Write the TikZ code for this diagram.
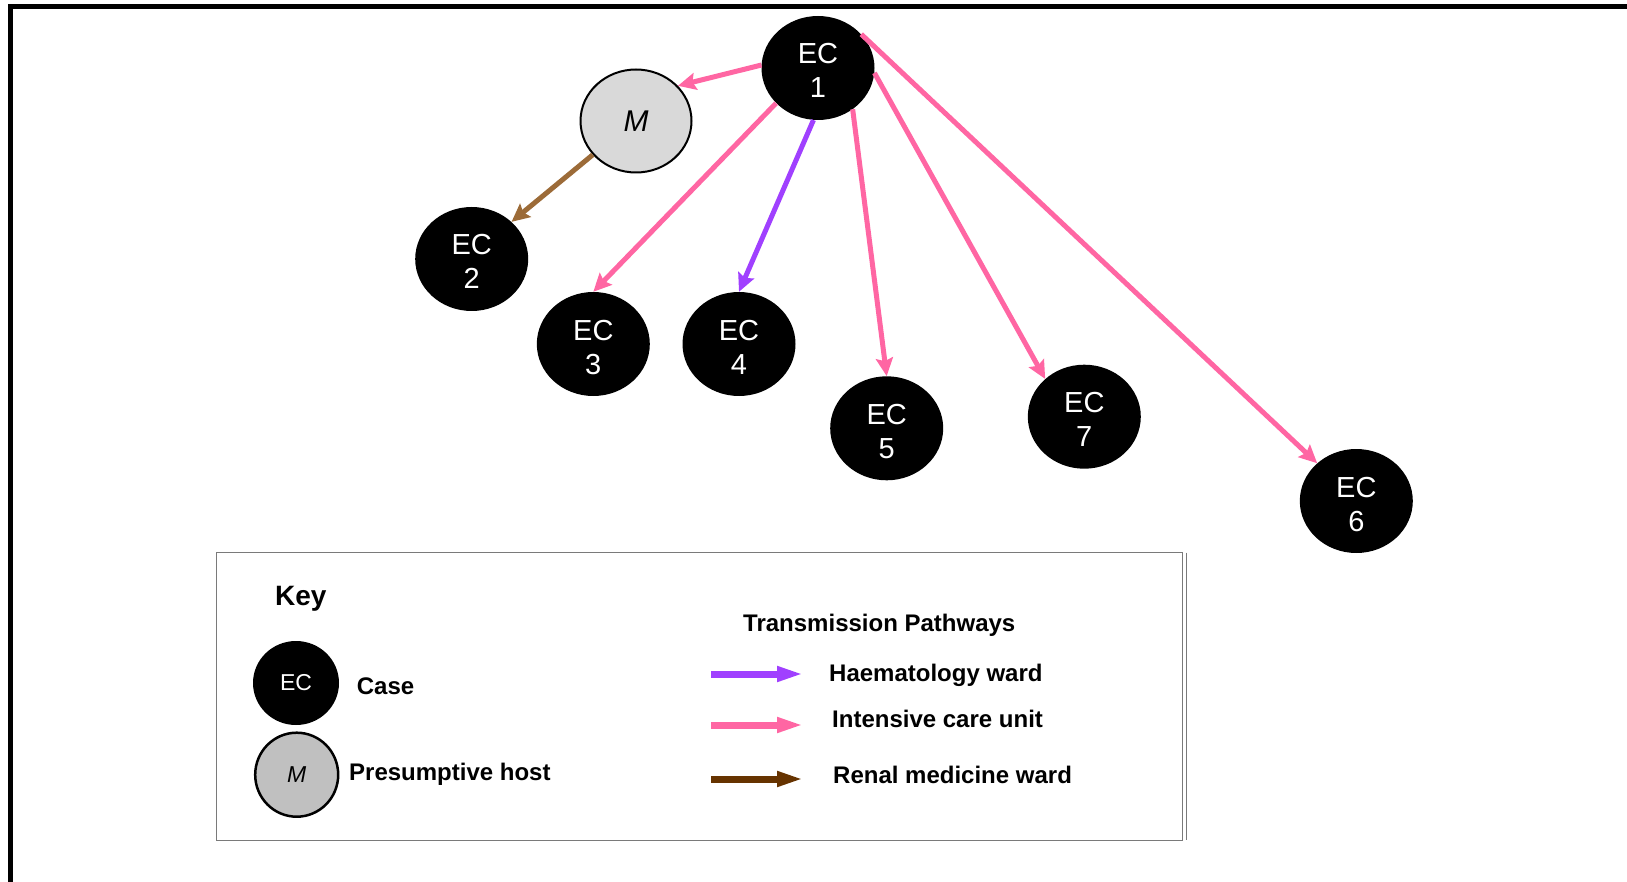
\documentclass[tikz,border=0pt]{standalone}
\usepackage{fontspec}
\setmainfont{Liberation Sans}
\usetikzlibrary{arrows.meta,shapes.geometric}
\definecolor{icupink}{HTML}{FF66A3}
\definecolor{haempurple}{HTML}{A040FF}
\definecolor{renalbrown}{HTML}{9C6B38}
\definecolor{renaldark}{HTML}{663300}
\definecolor{hostgrey}{HTML}{D9D9D9}
\definecolor{keygrey}{HTML}{C0C0C0}
\definecolor{keyframe}{HTML}{7A7A7A}

\begin{document}
\begin{tikzpicture}[x=1pt,y=-1pt,
  case/.style={ellipse, fill=black, text=white, minimum width=113pt,
    minimum height=104pt, inner sep=0pt, align=center,
    font=\fontsize{29}{34}\selectfont,
    text height=60pt, text depth=0pt},
  host/.style={ellipse, draw=black, line width=2pt, fill=hostgrey,
    minimum width=111pt, minimum height=103pt, inner sep=0pt,
    font=\fontsize{30}{33}\selectfont\itshape},
  link/.style={line width=5pt, -{Stealth[length=18pt,width=17pt,inset=3pt]}},
  icu/.style={link, draw=icupink, fill=icupink},
  haem/.style={link, draw=haempurple, fill=haempurple},
  renal/.style={link, draw=renalbrown, fill=renalbrown},
  keyarrow/.style={line width=7pt, -{Triangle[length=27pt,width=14pt]}},
  keylabel/.style={anchor=base west, inner sep=0pt,
    font=\fontsize{24}{28}\selectfont\bfseries},
  keyline/.style={draw=keyframe, line width=0.9pt},
]
\useasboundingbox (0,0) rectangle (1627,882);

% open page frame (top and left edges)
\draw[line width=5pt] (10.5,882) -- (10.5,6.5) -- (1627,6.5);

% cases and presumptive host
\node[case] (ec1) at (818,68) {EC\\1};
\node[host] (m) at (636,121) {M};
\node[case] (ec2) at (471.7,259) {EC\\2};
\node[case] (ec3) at (593.3,344) {EC\\3};
\node[case] (ec4) at (739,344) {EC\\4};
\node[case] (ec5) at (886.7,428.3) {EC\\5};
\node[case] (ec7) at (1084.3,416.7) {EC\\7};
\node[case] (ec6) at (1356.3,501) {EC\\6};

% transmission pathways
\draw[icu] (ec1.177) -- (m.40);
\draw[renal] (m.218) -- (ec2.43);
\draw[icu] (ec1.220) -- (ec3.north);
\draw[haem] (ec1.265) -- (ec4.north);
\draw[icu] (ec1.310) -- (ec5.north);
\draw[icu] (ec1.355) -- (ec7.136);
\draw[icu] (ec1.38) -- (ec6.136);

% key frame: thin grey box with a second rule on its right side
\draw[keyline] (216,552.5) rectangle (1182,840);
\draw[keyline] (1186,552.5) -- (1186,840);

\node[anchor=base west, inner sep=0pt, font=\fontsize{28}{32}\selectfont\bfseries]
  (keytitle) at (275,605) {Key};

\node[ellipse, fill=black, text=white, minimum width=86pt, minimum height=84pt,
  inner sep=0pt, font=\fontsize{23}{26}\selectfont] (keycase) at (296,683) {EC};
\node[keylabel] (casetext) at (356.7,694) {Case};

\node[ellipse, draw=black, line width=2.5pt, fill=keygrey, minimum width=83pt,
  minimum height=84pt, inner sep=0pt, font=\fontsize{23}{26}\selectfont\itshape]
  (keyhost) at (296.7,774.7) {M};
\node[keylabel] (hosttext) at (349,780.7) {Presumptive host};

\node[keylabel] (pathtitle) at (743,631.7) {Transmission Pathways};

\coordinate (haemA) at (711,674);
\coordinate (haemB) at (804,674);
\coordinate (icuA) at (711,725);
\coordinate (icuB) at (804,725);
\coordinate (renalA) at (711,779);
\coordinate (renalB) at (804,779);

\draw[keyarrow, draw=haempurple, fill=haempurple] (haemA) -- (haemB);
\draw[keyarrow, draw=icupink, fill=icupink] (icuA) -- (icuB);
\draw[keyarrow, draw=renaldark, fill=renaldark] (renalA) -- (renalB);

\node[keylabel] (haemtext) at (829,681.7) {Haematology ward};
\node[keylabel] (icutext) at (832,727.7) {Intensive care unit};
\node[keylabel] (renaltext) at (833,783.3) {Renal medicine ward};
\end{tikzpicture}
\end{document}
